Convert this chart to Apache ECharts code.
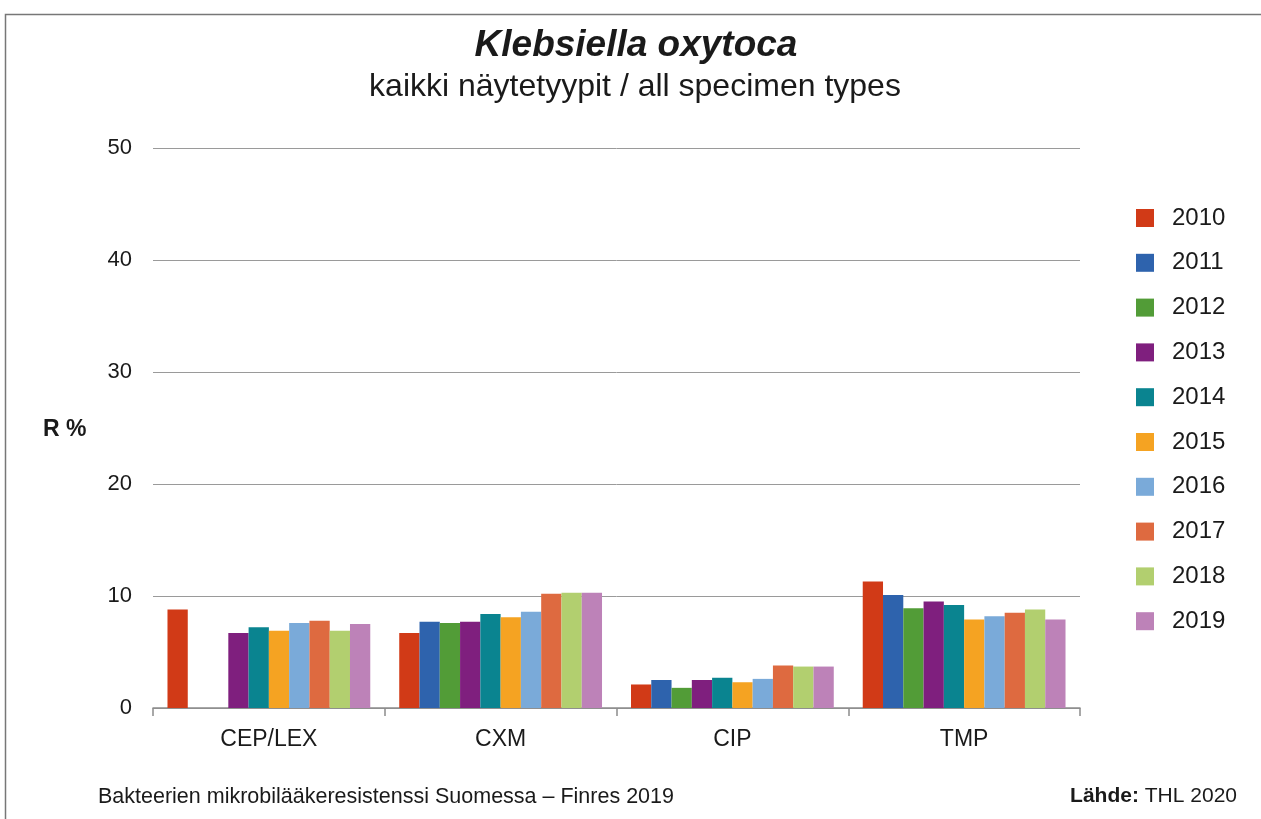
<!DOCTYPE html>
<html>
<head>
<meta charset="utf-8">
<script src="https://cdn.jsdelivr.net/npm/echarts@6/dist/echarts.min.js"></script>
<style>
  html, body { margin: 0; padding: 0; background: #fff; }
  #chart { width: 1261px; height: 819px; }
</style>
</head>
<body>
<div id="chart"></div>
<script>
  // kategoriat ja vuodet
  var categories = ["CEP/LEX", "CXM", "CIP", "TMP"];
  var years = ["2010", "2011", "2012", "2013", "2014", "2015", "2016", "2017", "2018", "2019"];
  var yTicks = [0, 10, 20, 30, 40, 50];

  // R % per vuosi, järjestys: CEP/LEX, CXM, CIP, TMP
  var r2010 = [8.8, 6.7, 2.1, 11.3];
  var r2011 = [null, 7.7, 2.5, 10.1];
  var r2012 = [null, 7.6, 1.8, 8.9];
  var r2013 = [6.7, 7.7, 2.5, 9.5];
  var r2014 = [7.2, 8.4, 2.7, 9.2];
  var r2015 = [6.9, 8.1, 2.3, 7.9];
  var r2016 = [7.6, 8.6, 2.6, 8.2];
  var r2017 = [7.8, 10.2, 3.8, 8.5];
  var r2018 = [6.9, 10.3, 3.7, 8.8];
  var r2019 = [7.5, 10.3, 3.7, 7.9];

  var values = [r2010, r2011, r2012, r2013, r2014, r2015, r2016, r2017, r2018, r2019];
  var colors = ["#d13a17", "#2e63ad", "#529c37", "#7f1f7e", "#0a8490",
                "#f5a322", "#7aaad9", "#de6a40", "#b2cf6f", "#bd82b8"];

  var font = "Liberation Sans, Arial, sans-serif";

  var series = years.map(function (y, i) {
    return {
      name: y,
      type: "bar",
      data: values[i],
      barGap: "0%",
      barCategoryGap: "12.5%",
      itemStyle: { color: colors[i] }
    };
  });

  var myChart = echarts.init(document.getElementById("chart"));
  myChart.setOption({
    animation: false,
    color: colors,
    title: [
      {
        text: "Klebsiella oxytoca",
        left: 631, top: 22, textAlign: "center",
        textStyle: { fontFamily: font, fontSize: 37, fontWeight: "bold", fontStyle: "italic", color: "#1a1a1a" }
      },
      {
        text: "kaikki näytetyypit / all specimen types",
        left: 630, top: 66, textAlign: "center",
        textStyle: { fontFamily: font, fontSize: 32, fontWeight: "normal", color: "#1a1a1a" }
      }
    ],
    graphic: [
      {
        type: "rect", left: 3, top: 12,
        shape: { width: 1300, height: 850 },
        style: { fill: null, stroke: "#777", lineWidth: 1.5 }
      },
      {
        type: "text", left: 43, top: 418,
        style: { text: "R %", font: "bold 23px " + font, fill: "#1a1a1a" }
      },
      {
        type: "text", left: 98, top: 786,
        style: { text: "Bakteerien mikrobilääkeresistenssi Suomessa – Finres 2019", font: "21.5px " + font, fill: "#1a1a1a" }
      },
      {
        type: "text", right: 24, top: 786,
        style: {
          text: "{b|Lähde:} THL 2020",
          font: "21px " + font, fill: "#1a1a1a",
          rich: { b: { fontWeight: "bold", fontSize: 21, fontFamily: font, fill: "#1a1a1a" } }
        }
      }
    ],
    legend: {
      orient: "vertical",
      left: 1131, top: 201,
      itemWidth: 18, itemHeight: 18,
      itemGap: 20.8,
      icon: "rect",
      data: years,
      textStyle: { fontFamily: font, fontSize: 24, color: "#1a1a1a", padding: [0, 0, 0, 13] }
    },
    grid: { left: 153, right: 181, top: 148, bottom: 111 },
    xAxis: {
      type: "category",
      data: categories,
      axisLine: { lineStyle: { color: "#8c8c8c", width: 1.5 } },
      axisTick: { show: true, length: 8, lineStyle: { color: "#8c8c8c", width: 1.5 } },
      axisLabel: { fontFamily: font, fontSize: 23, color: "#1a1a1a", margin: 20 }
    },
    yAxis: {
      type: "value",
      min: yTicks[0], max: yTicks[yTicks.length - 1], interval: 10,
      axisLine: { show: false },
      axisTick: { show: false },
      axisLabel: { fontFamily: font, fontSize: 22, color: "#1a1a1a", margin: 21 },
      splitLine: { lineStyle: { color: "#9a9a9a", width: 1 } }
    },
    series: series
  });
</script>
</body>
</html>
